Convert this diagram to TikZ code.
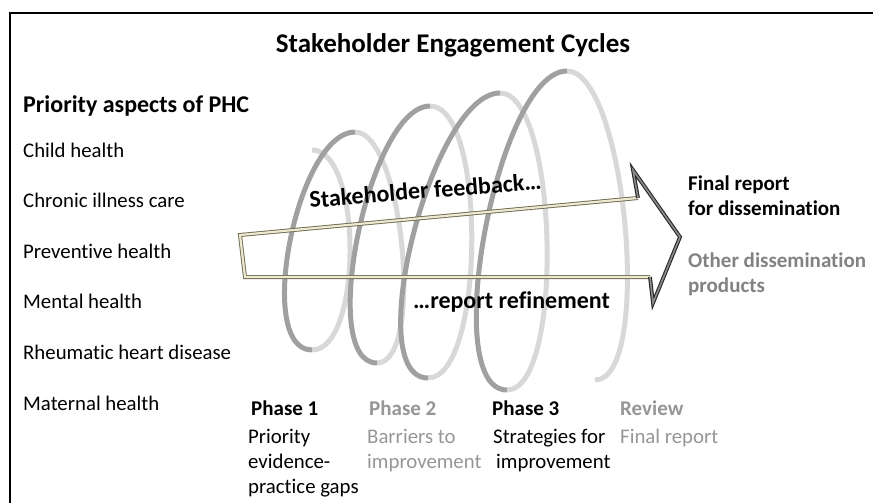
\documentclass[tikz,border=0pt]{standalone}
\usepackage{fontspec}
\setmainfont{Carlito}[Ligatures={NoCommon,NoContextual}]
\definecolor{darkarc}{RGB}{160,160,160}
\definecolor{lightarc}{RGB}{216,216,216}
\definecolor{greytxt}{RGB}{150,150,150}
\definecolor{othertxt}{RGB}{130,130,130}
\definecolor{shaftin}{RGB}{236,233,208}
\definecolor{shaftout}{RGB}{110,105,80}
\begin{document}
\begin{tikzpicture}[x=1pt,y=-1pt,
 txt/.style={anchor=base west, inner sep=0, font=\fontsize{20.8}{25}\selectfont},
 btxt/.style={anchor=base west, inner sep=0, font=\fontsize{21}{25}\selectfont\bfseries},
 gtxt/.style={txt, text=greytxt},
 gbtxt/.style={btxt, text=greytxt},
 midtxt/.style={anchor=base west, inner sep=0, font=\fontsize{24}{28}\selectfont\bfseries},
 darkseg/.style={draw=darkarc, line width=5},
 lightseg/.style={draw=lightarc, line width=5},
 shaft/.style={draw=shaftout, line width=0.9, double=shaftin, double distance=2.2, line join=miter},
 head/.style={draw=black!85, line width=1.1, double=black!45, double distance=1.6, line join=miter},
 frame/.style={draw=black, line width=2.5}]
\useasboundingbox (0,0) rectangle (873,503);
% frame
\coordinate (fb) at (10,503);
\coordinate (ftl) at (10,13);
\coordinate (fr) at (873,13);
\draw[frame] (fb) -- (ftl) -- (fr);
% spiral: light (back) arcs
\draw[lightseg] (312,150) .. controls (362.7,150) and (362.7,350) .. (312,350);
\draw[lightseg] (355,132) .. controls (403,132) and (425,363) .. (377,363);
\draw[lightseg] (430,106) .. controls (487,106) and (485,378) .. (428,378);
\draw[lightseg] (500,93) .. controls (558,93) and (565,390) .. (507,390);
\draw[lightseg] (567,71) .. controls (625.7,71) and (653.7,380) .. (595,380);
% spiral: dark arcs
\draw[darkseg] (312,350) .. controls (254,350) and (297,132) .. (355,132);
\draw[darkseg] (377,363) .. controls (316.3,363) and (369.3,106) .. (430,106);
\draw[darkseg] (428,378) .. controls (360,378) and (432,93) .. (500,93);
\draw[darkseg] (507,390) .. controls (437.7,390) and (497.7,71) .. (567,71);
% arrow
\coordinate (s1) at (638,198);
\coordinate (s2) at (240,235);
\coordinate (s3) at (245,277);
\coordinate (s4) at (650,277);
\coordinate (h1) at (633,170);
\coordinate (tip) at (680,237);
\coordinate (h2) at (653,303);
\draw[shaft] (s1) -- (s2) -- (s3) -- (s4);
\draw[head] (s1) -- (h1) -- (tip) -- (h2) -- (s4);
% title
\node[anchor=base, inner sep=0, font=\fontsize{27}{32}\selectfont\bfseries] (title) at (453,53) {Stakeholder Engagement Cycles};
% left column
\node[anchor=base west, inner sep=0, font=\fontsize{24}{28}\selectfont\bfseries] (prio) at (23,113) {Priority aspects of PHC};
\node[txt] (a1) at (23,157) {Child health};
\node[txt] (a2) at (23,207.5) {Chronic illness care};
\node[txt] (a3) at (23,258) {Preventive health};
\node[txt] (a4) at (23,308.5) {Mental health};
\node[txt] (a5) at (23,359) {Rheumatic heart disease};
\node[txt] (a6) at (23,410) {Maternal health};
% arrow labels
\node[midtxt, rotate=4.7] (fb1) at (310,208) {Stakeholder feedback…};
\node[midtxt] (rr) at (413,308) {…report refinement};
% right texts
\node[btxt] (r1) at (688,190) {Final report};
\node[btxt] (r2) at (688,215) {for dissemination};
\node[btxt, text=othertxt] (r3) at (688,267) {Other dissemination};
\node[btxt, text=othertxt] (r4) at (688,292) {products};
% phases
\node[btxt] (p1) at (251,415) {Phase 1};
\node[gbtxt] (p2) at (369,415) {Phase 2};
\node[btxt] (p3) at (492,415) {Phase 3};
\node[gbtxt] (p4) at (620,415) {Review};
\node[txt] (p1a) at (248,443) {Priority};
\node[txt] (p1b) at (248,468) {evidence-};
\node[txt] (p1c) at (248,493) {practice gaps};
\node[gtxt] (p2a) at (367,443) {Barriers to};
\node[gtxt] (p2b) at (367,468) {improvement};
\node[txt] (p3a) at (493,443) {Strategies for};
\node[txt] (p3b) at (496,468) {improvement};
\node[gtxt] (p4a) at (620,443) {Final report};
\end{tikzpicture}
\end{document}
